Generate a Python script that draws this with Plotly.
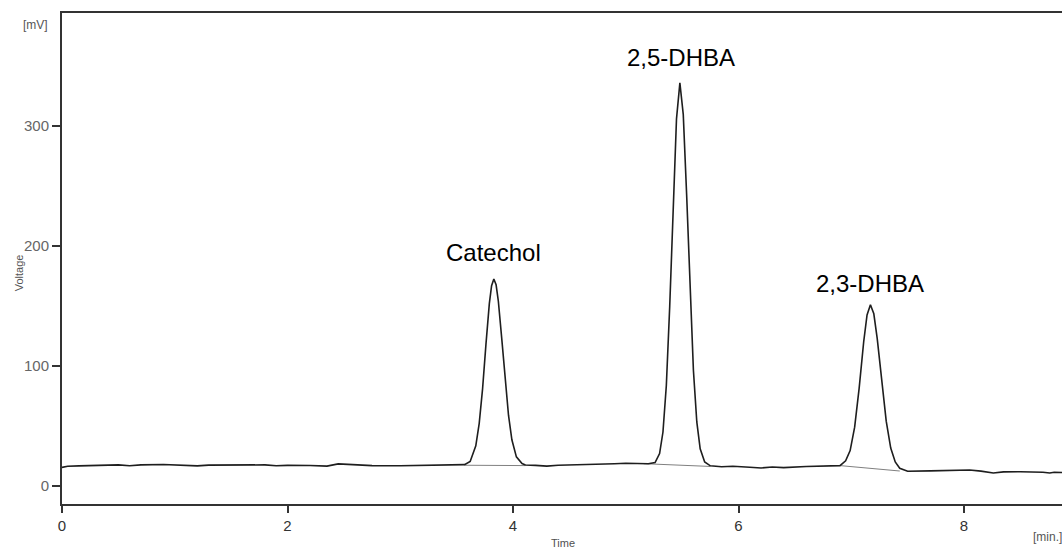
import plotly.graph_objects as go

# ---- data ----
time_min = [0.00, 0.05, 0.15, 0.30, 0.50, 0.60, 0.70, 0.90, 1.10, 1.20, 1.30, 1.60, 1.80, 1.90,
            2.00, 2.20, 2.35, 2.45, 2.55, 2.75, 3.00, 3.20, 3.35, 3.50,
            3.57, 3.62, 3.67, 3.70, 3.73, 3.76, 3.79, 3.81, 3.83, 3.85, 3.87, 3.90, 3.93, 3.96,
            3.99, 4.03, 4.08, 4.11,
            4.20, 4.30, 4.40, 4.50, 4.70, 4.90, 5.00, 5.10, 5.16,
            5.20, 5.26, 5.30, 5.33, 5.36, 5.39, 5.42, 5.45, 5.48, 5.51, 5.54, 5.57, 5.60, 5.63,
            5.66, 5.70, 5.75,
            5.85, 5.95, 6.10, 6.20, 6.30, 6.40, 6.60, 6.80, 6.90,
            6.95, 6.99, 7.03, 7.07, 7.11, 7.14, 7.17, 7.20, 7.23, 7.27, 7.31, 7.35, 7.39, 7.43,
            7.50, 7.70, 7.80, 7.90, 8.05, 8.15, 8.26, 8.35, 8.50, 8.70, 8.76, 8.80, 8.87]
voltage_mv = [15.5, 16.5, 16.8, 17.3, 17.6, 16.9, 17.6, 17.9, 17.5, 16.8, 17.4, 17.3, 17.6, 16.9,
              17.2, 17.1, 16.6, 18.4, 17.8, 17.0, 16.9, 17.3, 17.0, 17.4,
              17.8, 20.5, 33.5, 52.0, 81.0, 118.0, 152.0, 167.0, 172.5, 167.7, 154.0, 123.0, 88.5, 59.0,
              38.5, 24.3, 18.7, 17.5,
              17.2, 16.6, 17.3, 17.5, 17.6, 18.6, 19.0, 18.8, 18.6,
              18.5, 19.5, 27.0, 45.0, 84.0, 150.0, 233.0, 306.0, 336.0, 309.5, 242.5, 163.0, 96.5, 53.4,
              31.0, 20.0, 16.8,
              16.0, 16.4, 15.6, 15.0, 15.8, 15.3, 16.2, 16.8, 17.0,
              21.0, 29.5, 49.0, 81.5, 120.0, 142.5, 151.0, 143.5, 123.0, 87.0, 54.0, 31.6, 20.0, 14.8,
              12.3, 12.6, 12.8, 13.3, 13.3, 12.4, 10.8, 11.8, 11.9, 11.4, 10.8, 11.5, 11.3]

# integration baselines under each peak
base_catechol_t = [3.57, 4.11]
base_catechol_v = [17.3, 17.0]
base_25_t = [5.16, 5.75]
base_25_v = [18.6, 16.3]
base_23_t = [6.90, 7.43]
base_23_v = [17.0, 12.5]

peak_names = ["Catechol", "2,5-DHBA", "2,3-DHBA"]
peak_label_t = [3.827, 5.49, 7.166]
peak_label_v = [194.5, 357.5, 169.0]

x_ticks = [0, 2, 4, 6, 8]
y_ticks = [0, 100, 200, 300]

FONT = "Liberation Sans, Arial, sans-serif"

fig = go.Figure()
for bt, bv in [(base_catechol_t, base_catechol_v), (base_25_t, base_25_v), (base_23_t, base_23_v)]:
    fig.add_trace(go.Scatter(x=bt, y=bv, mode="lines",
                             line=dict(color="#808080", width=1), hoverinfo="skip"))
fig.add_trace(go.Scatter(x=time_min, y=voltage_mv, mode="lines",
                         line=dict(color="#1e1e1e", width=1.6)))

for name, t, v in zip(peak_names, peak_label_t, peak_label_v):
    fig.add_annotation(x=t, y=v, xref="x", yref="y", text=name, showarrow=False,
                       font=dict(family=FONT, size=24, color="#000000"),
                       xanchor="center", yanchor="middle")

small = dict(family=FONT, size=11, color="#555555")
fig.add_annotation(x=-0.027, y=0.975, xref="paper", yref="paper", text="[mV]",
                   showarrow=False, font=dict(family=FONT, size=12, color="#555555"),
                   xanchor="center", yanchor="middle")
fig.add_annotation(x=-0.043, y=0.47, xref="paper", yref="paper", text="Voltage",
                   showarrow=False, font=small, textangle=-90, xanchor="center", yanchor="middle")
fig.add_annotation(x=0.501, y=-0.079, xref="paper", yref="paper", text="Time",
                   showarrow=False, font=dict(family=FONT, size=11, color="#505050"),
                   xanchor="center", yanchor="middle")
fig.add_annotation(x=0.969, y=-0.067, xref="paper", yref="paper", text="[min.]",
                   showarrow=False, font=dict(family=FONT, size=12, color="#555555"),
                   xanchor="left", yanchor="middle")

fig.update_layout(
    width=1062, height=549,
    margin=dict(l=62, r=0, t=13, b=45),
    paper_bgcolor="white", plot_bgcolor="white",
    showlegend=False,
    xaxis=dict(range=[0, 8.869], tickvals=x_ticks, ticks="outside", ticklen=7, tickwidth=1.5,
               tickcolor="#333333", showline=True, linecolor="#333333", linewidth=2,
               mirror=True, showgrid=False, zeroline=False,
               tickfont=dict(family=FONT, size=15, color="#333333")),
    yaxis=dict(range=[-15, 394.2], tickvals=y_ticks, ticks="outside", ticklen=8, tickwidth=1.5,
               tickcolor="#333333", showline=True, linecolor="#333333", linewidth=2,
               showgrid=False, zeroline=False,
               tickfont=dict(family=FONT, size=15, color="#666666")),
)

fig.write_html("out.html", config={"displayModeBar": False},
               post_script="document.body.style.margin='0px';document.body.style.overflow='hidden';")
